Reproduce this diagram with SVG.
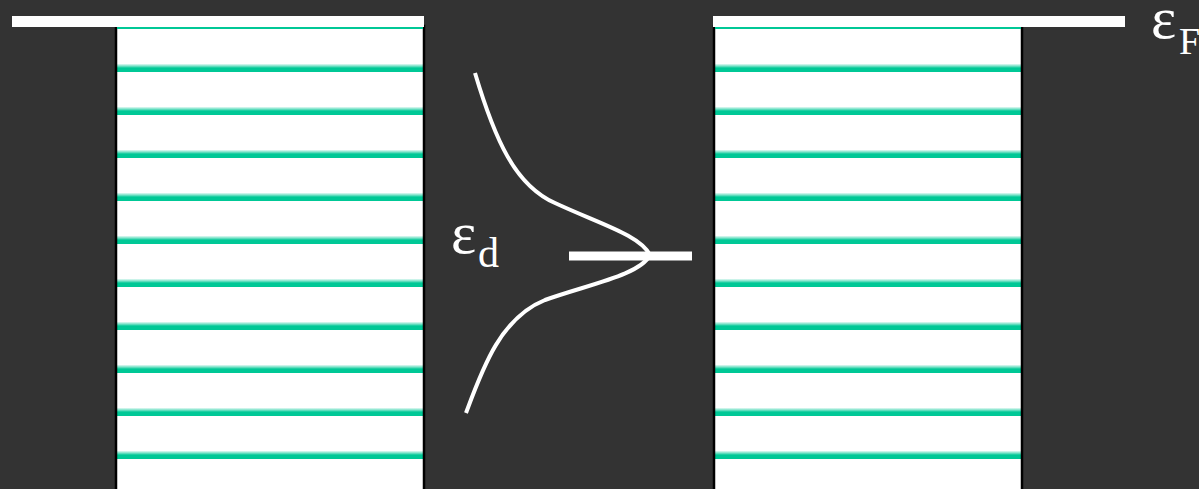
<svg xmlns="http://www.w3.org/2000/svg" width="1199" height="489" viewBox="0 0 1199 489">
<defs>
<linearGradient id="g" x1="0" y1="0" x2="0" y2="1">
<stop offset="0" stop-color="#00c896" stop-opacity="0.1"/>
<stop offset="0.35" stop-color="#00c896" stop-opacity="0.7"/>
<stop offset="0.5" stop-color="#00c896"/>
<stop offset="1" stop-color="#00c896"/>
</linearGradient>
<pattern id="lines" x="0" y="21" width="10" height="43" patternUnits="userSpaceOnUse">
<rect x="0" y="0" width="10" height="43" fill="#ffffff"/>
<rect x="0" y="0" width="10" height="8" fill="url(#g)"/>
</pattern>
<style>
.box{fill:url(#lines);stroke:#000;stroke-width:2.5}
.bar{fill:#fff}
.lbl{font-family:"Liberation Serif",serif;fill:#fff}
.curve{fill:none;stroke:#fff;stroke-width:4;stroke-linecap:butt}
</style>
</defs>
<rect width="1199" height="489" fill="#333333"/>
<g id="left-metal">
<rect class="box" x="116" y="26" width="308" height="470"/>
<rect x="117" y="26.5" width="306" height="2.5" fill="#00c896"/>
<rect class="bar" x="12" y="16" width="412" height="11"/>
</g>
<g id="right-metal">
<rect class="box" x="714" y="26" width="308" height="470"/>
<rect x="715" y="26.5" width="306" height="2.5" fill="#00c896"/>
<rect class="bar" x="713" y="16" width="412" height="11"/>
<text class="lbl" x="1151" y="38" font-size="60">ε<tspan x="1179" y="54" font-size="38">F</tspan></text>
</g>
<g id="impurity">
<path class="curve" d="M475,73 C495,140 515,185 555,203 C600,224 640,235 650,255 C640,275 590,284 545,300 C500,318 482,370 466,413"/>
<rect class="bar" x="569" y="251.5" width="123" height="9"/>
<text class="lbl" x="451" y="253" font-size="60">ε<tspan x="478" y="267" font-size="42">d</tspan></text>
</g>
<g id="connectors"/>
</svg>
